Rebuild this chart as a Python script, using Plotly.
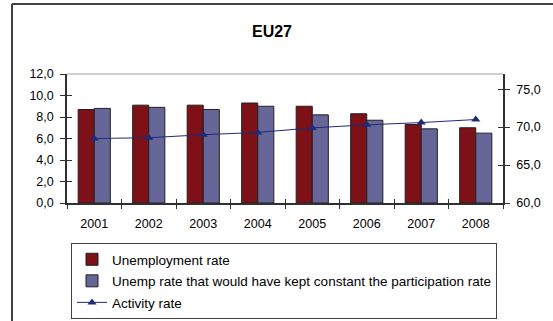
import plotly.graph_objects as go

years = ["2001", "2002", "2003", "2004", "2005", "2006", "2007", "2008"]
unemployment_rate = [8.7, 9.1, 9.1, 9.3, 9.0, 8.3, 7.3, 7.0]
unemp_constant_participation = [8.8, 8.9, 8.7, 9.0, 8.2, 7.7, 6.9, 6.5]
activity_rate = [68.5, 68.6, 69.0, 69.3, 69.9, 70.3, 70.6, 71.0]
left_ticks = [0, 2, 4, 6, 8, 10, 12]
right_ticks = [60, 65, 70, 75]

W, H = 553, 321
L, R, T, B = 67, 50, 74, 118
pw, ph = W - L - R, H - T - B

def px_x(p):
    return (p - L) / pw

def px_y(p):
    return (H - B - p) / ph

font = dict(family="Liberation Sans, Arial, sans-serif", size=12.5, color="#000000")
axcol = "#303030"

fig = go.Figure()
fig.add_trace(go.Bar(
    x=years, y=unemployment_rate, name="Unemployment rate", legendgroup="a",
    marker=dict(color="#7E1018", line=dict(color="#202020", width=1)),
))
fig.add_trace(go.Bar(
    x=years, y=unemp_constant_participation, legendgroup="b",
    name="Unemp rate that would have kept constant the participation rate",
    marker=dict(color="#666699", line=dict(color="#202020", width=1)),
))
fig.add_trace(go.Scatter(
    x=years, y=activity_rate, name="Activity rate", yaxis="y2", legendgroup="c",
    mode="lines+markers",
    line=dict(color="#1F2A7A", width=1),
    marker=dict(symbol="triangle-up", size=8, color="#1F2A7A"),
))

boundaries = [i - 0.5 for i in range(len(years) + 1)]

fig.update_layout(
    width=W, height=H,
    margin=dict(l=L, r=R, t=T, b=B, autoexpand=False),
    paper_bgcolor="white", plot_bgcolor="white",
    font=font,
    separators=",.",
    barmode="group", bargap=0.41, bargroupgap=0,
    showlegend=True,
    title=dict(text="<b>EU27</b>", x=272 / W, xref="container", xanchor="center",
               y=1 - 31 / H, yanchor="middle", font=dict(size=16, color="#000")),
    xaxis=dict(
        showline=True, linecolor=axcol, linewidth=1.5, automargin=False,
        ticks="outside", ticklen=4, tickcolor=axcol, tickson="boundaries",
        showgrid=False, zeroline=False, ticklabelstandoff=8,
    ),
    xaxis2=dict(
        overlaying="x", anchor="y", side="bottom", range=[-0.5, len(years) - 0.5],
        tickvals=boundaries, showticklabels=False, ticks="inside", ticklen=4,
        tickcolor=axcol, showline=False, showgrid=False, zeroline=False, automargin=False,
    ),
    yaxis=dict(
        range=[0, 12], tickvals=left_ticks, tickformat=".1f",
        showline=True, linecolor=axcol, linewidth=1.5, automargin=False,
        ticks="outside", ticklen=5, tickcolor=axcol,
        showgrid=False, zeroline=False, ticklabelstandoff=4,
    ),
    yaxis3=dict(
        range=[0, 12], tickvals=left_ticks, overlaying="y", side="left", anchor="x",
        showticklabels=False, ticks="inside", ticklen=5, tickcolor=axcol,
        showline=False, showgrid=False, zeroline=False, automargin=False,
    ),
    yaxis2=dict(
        range=[60, 77], tickvals=right_ticks, tickformat=".1f",
        overlaying="y", side="right", anchor="x",
        showline=True, linecolor=axcol, linewidth=1.5, automargin=False,
        ticks="outside", ticklen=5, tickcolor=axcol,
        showgrid=False, zeroline=False, ticklabelstandoff=4,
    ),
    yaxis4=dict(
        range=[60, 77], tickvals=right_ticks, overlaying="y", side="right", anchor="x",
        showticklabels=False, ticks="inside", ticklen=5, tickcolor=axcol,
        showline=False, showgrid=False, zeroline=False, automargin=False,
    ),
    legend=dict(
        x=px_x(71), y=px_y(243), xanchor="left", yanchor="top",
        bordercolor="#404040", borderwidth=1, bgcolor="white",
        font=dict(size=13.5), traceorder="grouped", tracegroupgap=1,
    ),
    shapes=[
        dict(type="line", xref="paper", yref="paper", x0=0, x1=1, y0=1, y1=1,
             line=dict(color="#A0A0A0", width=1)),
        dict(type="line", xref="paper", yref="paper",
             x0=px_x(12), x1=px_x(12), y0=px_y(4), y1=px_y(330),
             line=dict(color="#404040", width=2)),
        dict(type="line", xref="paper", yref="paper",
             x0=px_x(12), x1=px_x(560), y0=px_y(4), y1=px_y(4),
             line=dict(color="#404040", width=2)),
    ],
)

fig.add_trace(go.Scatter(x=[], y=[], xaxis="x2", yaxis="y3", showlegend=False, hoverinfo="skip"))
fig.add_trace(go.Scatter(x=[], y=[], xaxis="x2", yaxis="y4", showlegend=False, hoverinfo="skip"))

fig.write_html("out.html", config={"displayModeBar": False},
               post_script="document.body.style.margin='0px';")
